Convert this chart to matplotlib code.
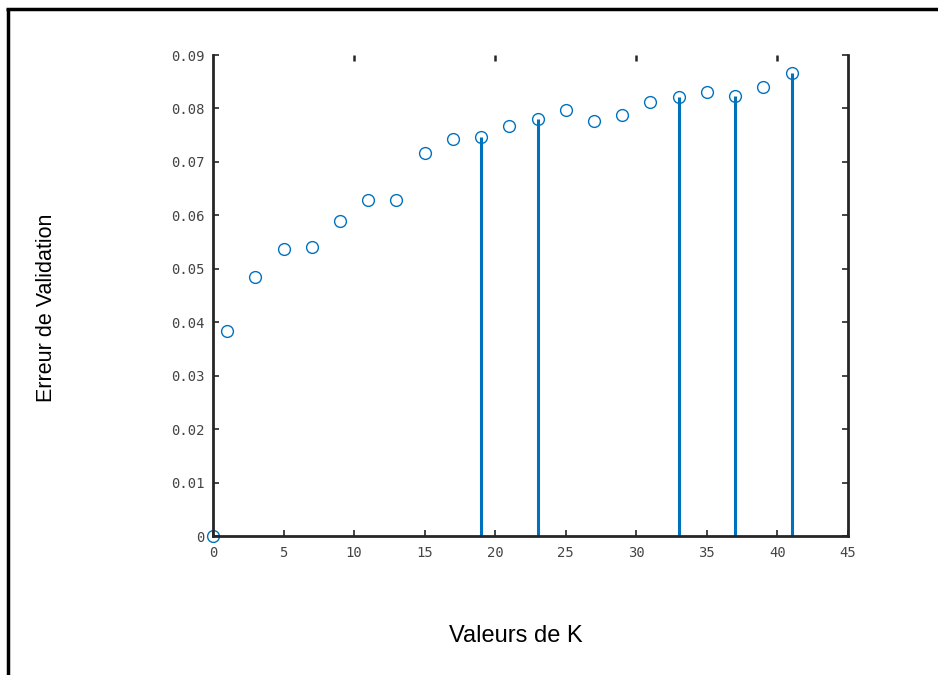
import numpy as np
import matplotlib
matplotlib.use("Agg")
import matplotlib.pyplot as plt
from matplotlib.lines import Line2D

# validation error for each K
k_values = [0, 1, 3, 5, 7, 9, 11, 13, 15, 17, 19, 21, 23, 25, 27, 29, 31, 33, 35, 37, 39, 41]
val_err = [0.0, 0.0384, 0.0485, 0.0537, 0.0541, 0.0589, 0.0629, 0.0629, 0.0716, 0.0742,
           0.0746, 0.0767, 0.0781, 0.0797, 0.0777, 0.0788, 0.0813, 0.0822, 0.0830,
           0.0824, 0.0841, 0.0867]
stem_k = [19, 23, 33, 37, 41]
x_ticks = [0, 5, 10, 15, 20, 25, 30, 35, 40, 45]
y_ticks = [0, 0.01, 0.02, 0.03, 0.04, 0.05, 0.06, 0.07, 0.08, 0.09]
y_tick_labels = ["0", "0.01", "0.02", "0.03", "0.04", "0.05", "0.06", "0.07", "0.08", "0.09"]

blue = "#0072BD"
stem_err = [val_err[k_values.index(k)] for k in stem_k]

fig = plt.figure(figsize=(9.38, 6.75), dpi=100)
ax = fig.add_axes([0.2271, 0.2059, 0.904 - 0.2271, 0.9185 - 0.2059])

ax.plot(k_values, val_err, "o", color=blue, markerfacecolor="none",
        markersize=8.5, markeredgewidth=1.0, clip_on=False)
ax.vlines(stem_k, 0, stem_err, color=blue, linewidth=2.2)

ax.set_xlim(0, 45)
ax.set_ylim(0, 0.09)
ax.set_xticks(x_ticks)
ax.set_yticks(y_ticks)
ax.set_yticklabels(y_tick_labels)

for side in ["left", "bottom", "right"]:
    ax.spines[side].set_color("#262626")
    ax.spines[side].set_linewidth(2.0)
ax.spines["top"].set_visible(False)

ax.tick_params(direction="in", length=4, width=1.2, color="#262626",
               labelsize=10, labelcolor="#444444", right=True)
ax.tick_params(axis="x", pad=7)
ax.tick_params(axis="y", pad=6)
for lab in ax.get_xticklabels() + ax.get_yticklabels():
    lab.set_family("DejaVu Sans Mono")

top = ax.secondary_xaxis("top")
top.set_xticks([10, 20, 30, 40])
top.set_xticklabels([])
top.tick_params(direction="in", length=4, width=1.8, color="#262626")
top.spines["top"].set_visible(False)

ax.set_xlabel("Valeurs de K", fontsize=17, family="Liberation Sans")
ax.set_ylabel("Erreur de Validation", fontsize=15.5, family="Liberation Sans")
ax.xaxis.set_label_coords(0.477, -0.2204)
ax.xaxis.label.set_verticalalignment("baseline")
ax.yaxis.set_label_coords(-0.245, 0.475)

# black frame on the left and top edges
fig.add_artist(Line2D([0.008, 0.008], [0.0, 0.9874], color="black", linewidth=2.5,
                      transform=fig.transFigure, solid_capstyle="butt"))
fig.add_artist(Line2D([0.0064, 1.0], [0.9874, 0.9874], color="black", linewidth=2.5,
                      transform=fig.transFigure, solid_capstyle="butt"))

fig.savefig("out.png", dpi=100)
